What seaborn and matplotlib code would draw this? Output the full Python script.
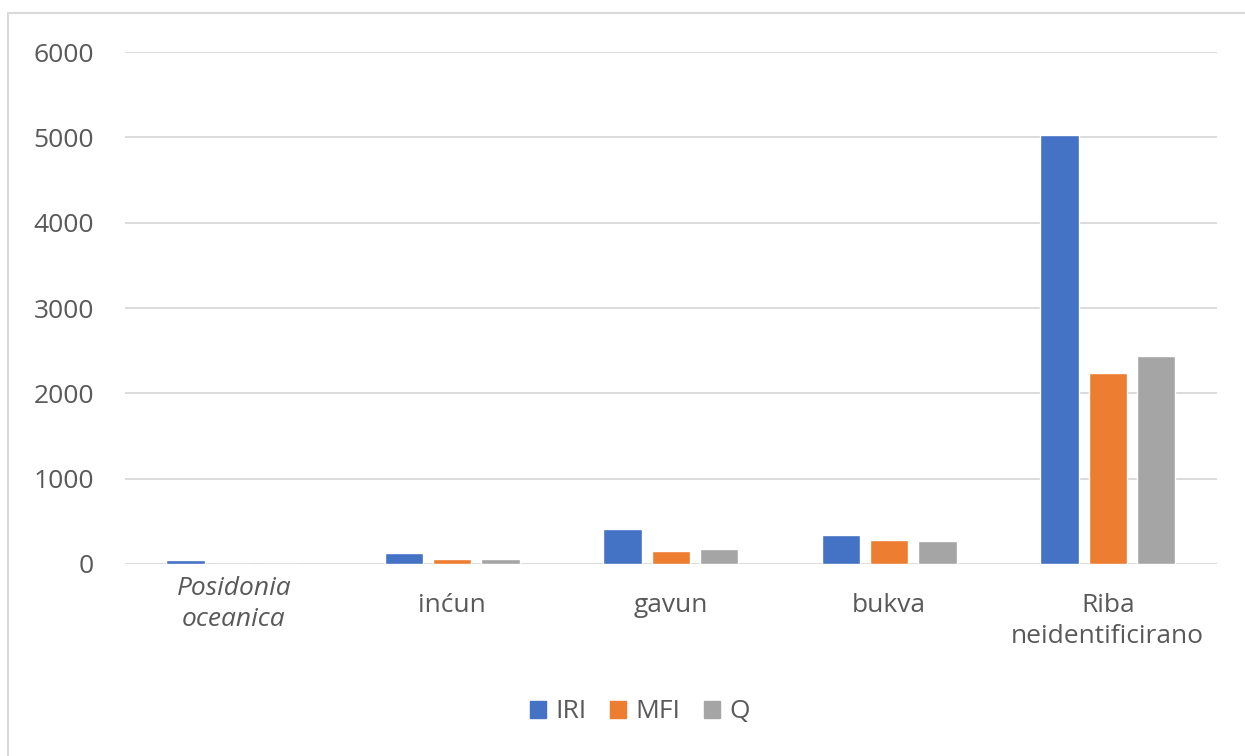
import pandas as pd
import matplotlib
matplotlib.use("Agg")
from matplotlib import pyplot as plt
from matplotlib.patches import Rectangle
import seaborn as sns

# data
categories = ["Posidonia\noceanica", "inćun", "gavun", "bukva", "Riba\nneidentificirano"]
iri = [45, 125, 405, 335, 5030]
mfi = [0, 60, 150, 285, 2235]
q = [0, 60, 170, 275, 2435]
series = ["IRI", "MFI", "Q"]
colors = ["#4472C4", "#ED7D31", "#A5A5A5"]

rows = []
for name, vals in zip(series, [iri, mfi, q]):
    for cat, v in zip(categories, vals):
        rows.append({"category": cat, "series": name, "value": v})
df = pd.DataFrame(rows)

sns.set_style("white")
plt.rcParams["font.family"] = ["Open Sans", "DejaVu Sans"]

fig = plt.figure(figsize=(12.45, 7.56), dpi=100)
ax = fig.add_axes([0.100, 0.254, 0.8775, 0.677])

sns.barplot(data=df, x="category", y="value", hue="series", order=categories,
            hue_order=series, palette=colors, width=0.66, gap=0.2,
            saturation=1, ax=ax, legend=False)

ax.set_ylim(0, 6000)
ax.set_yticks(range(0, 6001, 1000))
ax.grid(axis="y", color="#d9d9d9", linewidth=1.3)
ax.set_axisbelow(True)
sns.despine(ax=ax, left=True, bottom=True)
ax.set_xlabel("")
ax.set_ylabel("")
ax.tick_params(axis="both", length=0, labelsize=19, labelcolor="#595959")
ax.tick_params(axis="y", pad=22)
ax.tick_params(axis="x", pad=21)
for lab in ax.get_xticklabels():
    lab.set_linespacing(1.3)
first = ax.get_xticklabels()[0]
first.set_style("italic")
ax.xaxis.get_major_ticks()[0].set_pad(9)

# legend
handles = [Rectangle((0, 0), 1, 1, color=c) for c in colors]
fig.legend(handles, series, loc="center", bbox_to_anchor=(640 / 1245, 1 - 712 / 756),
           ncol=3, frameon=False, handlelength=0.6, handleheight=0.6,
           columnspacing=0.9, handletextpad=0.35, fontsize=19, labelcolor="#595959")

# outer chart border
fig.patches.append(Rectangle((8 / 1245, -0.05), 1.1, 1 - 13 / 756 + 0.05,
                             transform=fig.transFigure, fill=False,
                             edgecolor="#d9d9d9", linewidth=1.5))

fig.savefig("out.png", dpi=100)
